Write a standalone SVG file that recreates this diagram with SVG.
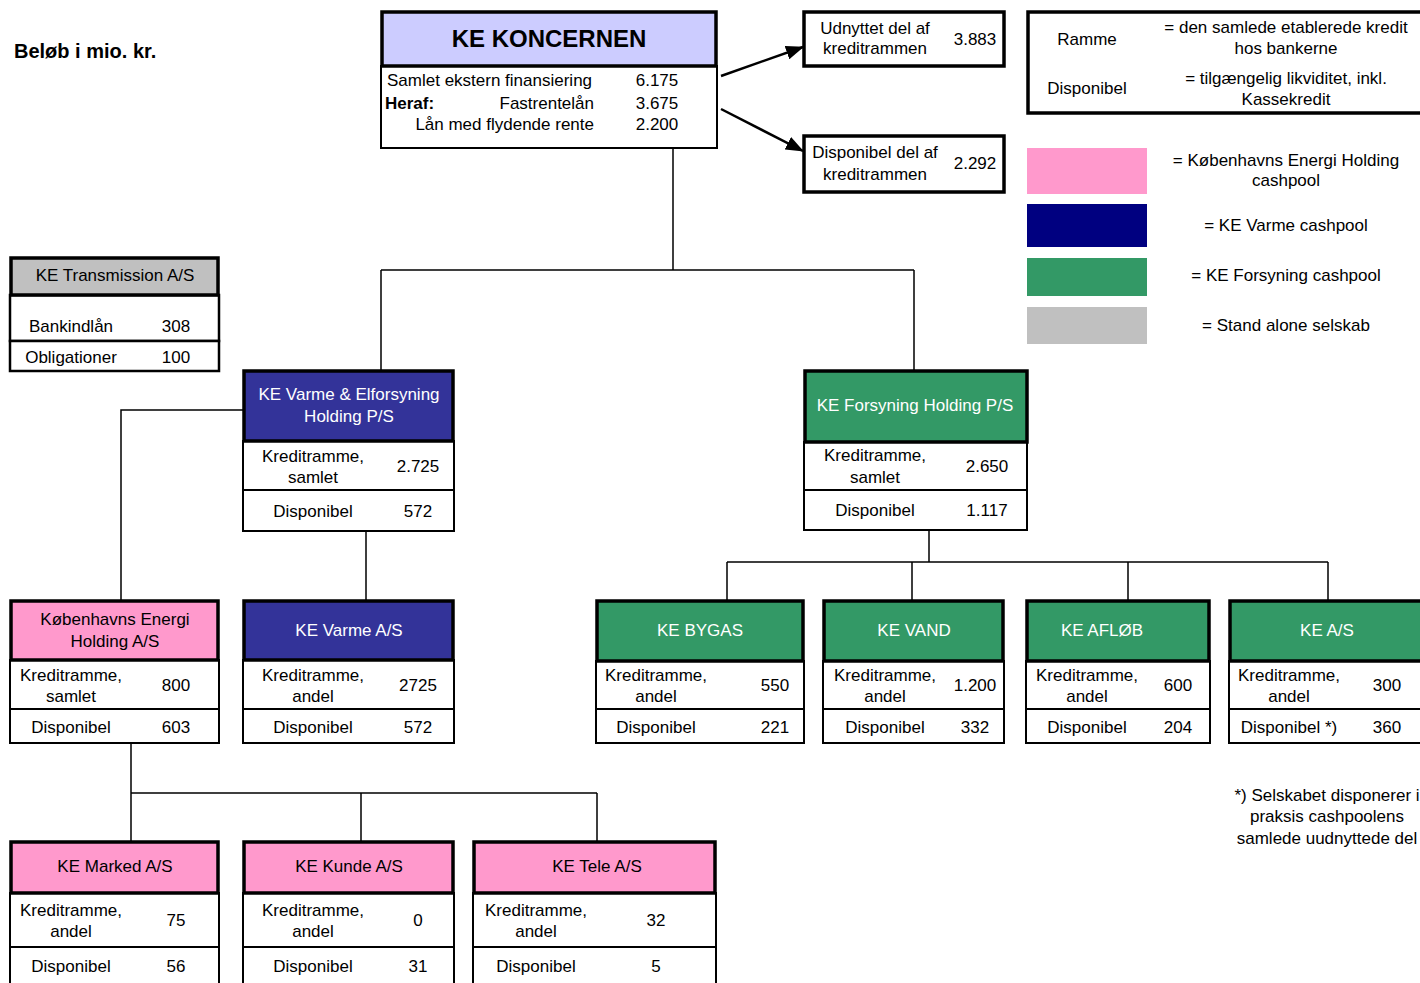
<svg xmlns="http://www.w3.org/2000/svg" width="1420" height="983" viewBox="0 0 1420 983">
<style>
text{font-family:"Liberation Sans",Arial,sans-serif;font-size:17px;fill:#000;text-anchor:middle}
.l{text-anchor:start}
.r{text-anchor:end}
.w{fill:#fff}
.b{font-weight:bold}
.hd{stroke:#000;stroke-width:3.5}
.bd{fill:#fff;stroke:#000;stroke-width:2}
.pink{fill:#FF99CC}
.navy{fill:#333399}
.green{fill:#339966}
.gray{fill:#C0C0C0}
.lav{fill:#CCCCFF}
.cn{fill:none;stroke:#000;stroke-width:1.5}
</style>
<defs>
<marker id="ah" markerWidth="18" markerHeight="14" refX="17" refY="7" orient="auto" markerUnits="userSpaceOnUse" viewBox="0 0 18 14">
<path d="M0,0 L18,7 L0,14 z" fill="#000"/>
</marker>
</defs>
<rect width="1420" height="983" fill="#fff"/>

<text class="l b" x="14" y="58" style="font-size:20px">Beløb i mio. kr.</text>

<g id="connectors">
<path class="cn" d="M673,148 V270 M381,270 H914 M381,270 V370 M914,270 V370"/>
<path class="cn" d="M243,410 H121 V600 M366,531 V600"/>
<path class="cn" d="M929,530 V562 M727,562 H1328 M727,562 V600 M912,562 V600 M1128,562 V600 M1328,562 V600"/>
<path class="cn" d="M131,743 V793 H597 M131,793 V841 M361,793 V841 M597,793 V841"/>
<line x1="721" y1="76" x2="803" y2="47" stroke="#000" stroke-width="2.5" marker-end="url(#ah)"/>
<line x1="721" y1="109" x2="803" y2="151" stroke="#000" stroke-width="2.5" marker-end="url(#ah)"/>
</g>

<g id="ke-koncernen">
<rect class="bd" x="381" y="66" width="336" height="82"/>
<rect class="hd lav" x="382" y="12" width="334" height="54"/>
<text class="b" x="549" y="46.5" style="font-size:24px">KE KONCERNEN</text>
<text class="l" x="387" y="86">Samlet ekstern finansiering</text>
<text x="657" y="86">6.175</text>
<text class="l b" x="385" y="109">Heraf:</text>
<text class="r" x="594" y="109">Fastrentelån</text>
<text x="657" y="109">3.675</text>
<text class="r" x="594" y="130">Lån med flydende rente</text>
<text x="657" y="130">2.200</text>
</g>

<g id="udnyttet">
<rect class="hd" fill="#fff" x="804" y="12" width="200" height="54"/>
<text x="875" y="34">Udnyttet del af</text>
<text x="875" y="54">kreditrammen</text>
<text x="975" y="45">3.883</text>
</g>

<g id="disponibel">
<rect class="hd" fill="#fff" x="804" y="136" width="200" height="56"/>
<text x="875" y="158">Disponibel del af</text>
<text x="875" y="180">kreditrammen</text>
<text x="975" y="169">2.292</text>
</g>

<g id="legend">
<rect class="hd" fill="#fff" x="1028" y="12" width="400" height="101"/>
<text x="1087" y="45">Ramme</text>
<text x="1286" y="33">= den samlede etablerede kredit</text>
<text x="1286" y="54">hos bankerne</text>
<text x="1087" y="94">Disponibel</text>
<text x="1286" y="84">= tilgængelig likviditet, inkl.</text>
<text x="1286" y="105">Kassekredit</text>
<rect x="1027" y="148" width="120" height="46" fill="#FF99CC"/>
<rect x="1027" y="204" width="120" height="43" fill="#000080"/>
<rect x="1027" y="258" width="120" height="38" fill="#339966"/>
<rect x="1027" y="307" width="120" height="37" fill="#C0C0C0"/>
<text x="1286" y="166">= Københavns Energi Holding</text>
<text x="1286" y="186">cashpool</text>
<text x="1286" y="231">= KE Varme cashpool</text>
<text x="1286" y="281">= KE Forsyning cashpool</text>
<text x="1286" y="331">= Stand alone selskab</text>
</g>

<g id="ke-transmission">
<rect class="bd" x="10" y="295" width="209" height="46" style="stroke-width:2.5"/>
<rect class="bd" x="10" y="341" width="209" height="30" style="stroke-width:2.5"/>
<rect class="hd gray" x="11" y="258" width="207" height="37"/>
<text x="115" y="281">KE Transmission A/S</text>
<text x="71" y="332">Bankindlån</text>
<text x="176" y="332">308</text>
<text x="71" y="363">Obligationer</text>
<text x="176" y="363">100</text>
</g>

<g id="ke-varme-holding">
<rect class="bd" x="243" y="441" width="211" height="49"/>
<rect class="bd" x="243" y="490" width="211" height="41"/>
<rect class="hd navy" x="244" y="371" width="209" height="70"/>
<text class="w" x="349" y="400">KE Varme &amp; Elforsyning</text>
<text class="w" x="349" y="422">Holding P/S</text>
<text x="313" y="462">Kreditramme,</text>
<text x="313" y="483">samlet</text>
<text x="418" y="472">2.725</text>
<text x="313" y="517">Disponibel</text>
<text x="418" y="517">572</text>
</g>

<g id="ke-forsyning-holding">
<rect class="bd" x="804" y="442" width="223" height="48"/>
<rect class="bd" x="804" y="490" width="223" height="40"/>
<rect class="hd green" x="805" y="371" width="222" height="71"/>
<text class="w" x="915" y="411">KE Forsyning Holding P/S</text>
<text x="875" y="461">Kreditramme,</text>
<text x="875" y="483">samlet</text>
<text x="987" y="472">2.650</text>
<text x="875" y="516">Disponibel</text>
<text x="987" y="516">1.117</text>
</g>

<g id="kbh-energi-holding">
<rect class="bd" x="10" y="660" width="209" height="49"/>
<rect class="bd" x="10" y="709" width="209" height="34"/>
<rect class="hd pink" x="11" y="601" width="207" height="59"/>
<text x="115" y="625">Københavns Energi</text>
<text x="115" y="647">Holding A/S</text>
<text x="71" y="681">Kreditramme,</text>
<text x="71" y="702">samlet</text>
<text x="176" y="691">800</text>
<text x="71" y="733">Disponibel</text>
<text x="176" y="733">603</text>
</g>

<g id="ke-varme">
<rect class="bd" x="243" y="660" width="211" height="49"/>
<rect class="bd" x="243" y="709" width="211" height="34"/>
<rect class="hd navy" x="244" y="601" width="209" height="59"/>
<text class="w" x="349" y="636">KE Varme A/S</text>
<text x="313" y="681">Kreditramme,</text>
<text x="313" y="702">andel</text>
<text x="418" y="691">2725</text>
<text x="313" y="733">Disponibel</text>
<text x="418" y="733">572</text>
</g>

<g id="ke-bygas">
<rect class="bd" x="596" y="661" width="208" height="48"/>
<rect class="bd" x="596" y="709" width="208" height="34"/>
<rect class="hd green" x="597" y="601" width="206" height="60"/>
<text class="w" x="700" y="636">KE BYGAS</text>
<text x="656" y="681">Kreditramme,</text>
<text x="656" y="702">andel</text>
<text x="775" y="691">550</text>
<text x="656" y="733">Disponibel</text>
<text x="775" y="733">221</text>
</g>

<g id="ke-vand">
<rect class="bd" x="823" y="661" width="181" height="48"/>
<rect class="bd" x="823" y="709" width="181" height="34"/>
<rect class="hd green" x="824" y="601" width="179" height="60"/>
<text class="w" x="914" y="636">KE VAND</text>
<text x="885" y="681">Kreditramme,</text>
<text x="885" y="702">andel</text>
<text x="975" y="691">1.200</text>
<text x="885" y="733">Disponibel</text>
<text x="975" y="733">332</text>
</g>

<g id="ke-aflob">
<rect class="bd" x="1026" y="661" width="184" height="48"/>
<rect class="bd" x="1026" y="709" width="184" height="34"/>
<rect class="hd green" x="1027" y="601" width="182" height="60"/>
<text class="w" x="1102" y="636">KE AFLØB</text>
<text x="1087" y="681">Kreditramme,</text>
<text x="1087" y="702">andel</text>
<text x="1178" y="691">600</text>
<text x="1087" y="733">Disponibel</text>
<text x="1178" y="733">204</text>
</g>

<g id="ke-as">
<rect class="bd" x="1229" y="661" width="200" height="48"/>
<rect class="bd" x="1229" y="709" width="200" height="34"/>
<rect class="hd green" x="1230" y="601" width="198" height="60"/>
<text class="w" x="1327" y="636">KE A/S</text>
<text x="1289" y="681">Kreditramme,</text>
<text x="1289" y="702">andel</text>
<text x="1387" y="691">300</text>
<text x="1289" y="733">Disponibel *)</text>
<text x="1387" y="733">360</text>
</g>

<g id="ke-marked">
<rect class="bd" x="10" y="893" width="209" height="54"/>
<rect class="bd" x="10" y="947" width="209" height="45"/>
<rect class="hd pink" x="11" y="842" width="207" height="51"/>
<text x="115" y="872">KE Marked A/S</text>
<text x="71" y="916">Kreditramme,</text>
<text x="71" y="937">andel</text>
<text x="176" y="926">75</text>
<text x="71" y="972">Disponibel</text>
<text x="176" y="972">56</text>
</g>

<g id="ke-kunde">
<rect class="bd" x="243" y="893" width="211" height="54"/>
<rect class="bd" x="243" y="947" width="211" height="45"/>
<rect class="hd pink" x="244" y="842" width="209" height="51"/>
<text x="349" y="872">KE Kunde A/S</text>
<text x="313" y="916">Kreditramme,</text>
<text x="313" y="937">andel</text>
<text x="418" y="926">0</text>
<text x="313" y="972">Disponibel</text>
<text x="418" y="972">31</text>
</g>

<g id="ke-tele">
<rect class="bd" x="473" y="893" width="243" height="54"/>
<rect class="bd" x="473" y="947" width="243" height="45"/>
<rect class="hd pink" x="474" y="842" width="241" height="51"/>
<text x="597" y="872">KE Tele A/S</text>
<text x="536" y="916">Kreditramme,</text>
<text x="536" y="937">andel</text>
<text x="656" y="926">32</text>
<text x="536" y="972">Disponibel</text>
<text x="656" y="972">5</text>
</g>

<g id="footnote">
<text x="1327" y="801">*) Selskabet disponerer i</text>
<text x="1327" y="822">praksis cashpoolens</text>
<text x="1327" y="844">samlede uudnyttede del</text>
</g>
</svg>
